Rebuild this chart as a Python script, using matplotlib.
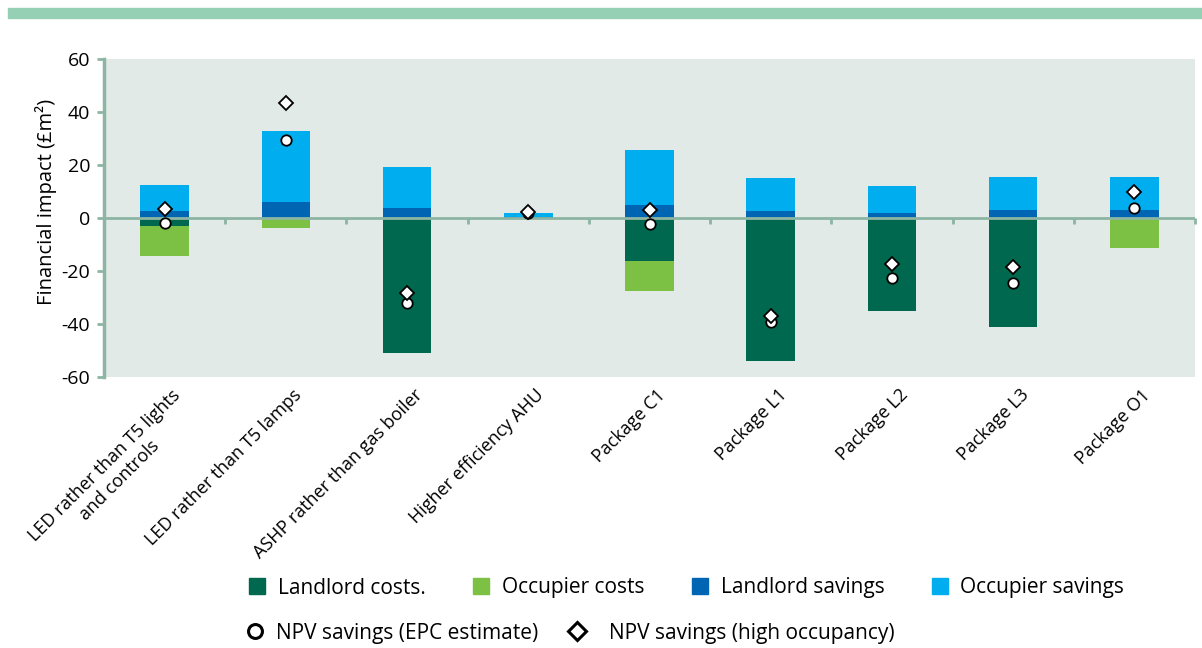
import matplotlib
matplotlib.use("Agg")
import matplotlib.pyplot as plt
import matplotlib.transforms as mtransforms
from matplotlib.patches import Rectangle
from matplotlib.lines import Line2D
import numpy as np

plt.rcParams['font.family'] = ['Open Sans', 'DejaVu Sans']

categories = [
    "LED rather than T5 lights\nand controls",
    "LED rather than T5 lamps",
    "ASHP rather than gas boiler",
    "Higher efficiency AHU",
    "Package C1",
    "Package L1",
    "Package L2",
    "Package L3",
    "Package O1",
]
landlord_costs = [-3.1, 0.0, -51.1, 0.0, -16.2, -54.0, -35.1, -41.2, 0.0]
occupier_costs = [-11.4, -3.9, 0.0, 0.0, -11.3, 0.0, 0.0, 0.0, -11.5]
landlord_savings = [2.6, 6.0, 3.7, 0.3, 4.8, 2.6, 1.7, 2.9, 2.9]
occupier_savings = [10.0, 26.8, 15.4, 1.7, 20.9, 12.4, 10.3, 12.6, 12.6]
npv_epc = [-1.8, 29.4, -32.1, 2.0, -2.2, -39.3, -22.7, -24.4, 3.6]
npv_high = [3.5, 43.5, -28.3, 2.3, 3.1, -37.1, -17.2, -18.5, 9.8]
y_ticks = [-60, -40, -20, 0, 20, 40, 60]

c_land_cost = "#00684e"
c_occ_cost = "#7cc144"
c_land_sav = "#0066b3"
c_occ_sav = "#00aeef"
c_axis = "#8db5a3"
c_bg = "#e1eae7"

fig = plt.figure(figsize=(12.02, 6.48), dpi=100)
fig.patches.append(Rectangle((8 / 1202, 1 - 18 / 648), 1 - 8 / 1202, 10 / 648,
                             transform=fig.transFigure, color="#96d0b4", zorder=0))

ax = fig.add_axes([104 / 1202, 1 - 377 / 648, (1195 - 104) / 1202, (377 - 59) / 648])
ax.set_facecolor(c_bg)

x = np.arange(len(categories))
w = 0.4
lc = np.array(landlord_costs)
oc = np.array(occupier_costs)
ls = np.array(landlord_savings)
os_ = np.array(occupier_savings)

ax.bar(x, lc, w, color=c_land_cost, zorder=2)
ax.bar(x, oc, w, bottom=lc, color=c_occ_cost, zorder=2)
ax.bar(x, ls, w, color=c_land_sav, zorder=2)
ax.bar(x, os_, w, bottom=ls, color=c_occ_sav, zorder=2)

# zero line with small ticks between categories
ax.axhline(0, color=c_axis, lw=2, zorder=3)
bounds = np.arange(len(categories) + 1) - 0.5
ax.plot(bounds, np.zeros_like(bounds), linestyle="none", marker=3, markersize=4,
        markeredgewidth=2, color=c_axis, zorder=3, clip_on=False)

ax.plot(x, npv_epc, linestyle="none", marker="o", markersize=7.5, markerfacecolor="white",
        markeredgecolor="black", markeredgewidth=1.3, zorder=5)
ax.plot(x, npv_high, linestyle="none", marker="D", markersize=7.5, markerfacecolor="white",
        markeredgecolor="black", markeredgewidth=1.3, zorder=5)

ax.set_xlim(-0.5, len(categories) - 0.5)
ax.set_ylim(-60, 60)
ax.set_yticks(y_ticks)
ax.set_yticklabels([str(v) for v in y_ticks], fontsize=14)
ax.tick_params(axis="y", direction="out", length=5, width=2, color=c_axis, pad=5)
ax.set_ylabel("Financial impact (£m²)", fontsize=14.5)
ax.yaxis.set_label_coords(-47 / 1091, 0.55)

ax.set_xticks(x)
ax.set_xticklabels(categories, rotation=45, ha="right", va="top",
                   rotation_mode="anchor", fontsize=13, multialignment="center")
ax.tick_params(axis="x", length=0, pad=0)
shift = mtransforms.ScaledTranslation(0.07, -0.09, fig.dpi_scale_trans)
for lab in ax.get_xticklabels():
    lab.set_transform(lab.get_transform() + shift)

for s in ["top", "right", "bottom"]:
    ax.spines[s].set_visible(False)
ax.spines["left"].set_color(c_axis)
ax.spines["left"].set_linewidth(2.5)

# legend: bar components
sq = dict(marker="s", linestyle="none", markersize=11.5)
h1 = [Line2D([], [], color=c_land_cost, **sq),
      Line2D([], [], color=c_occ_cost, **sq),
      Line2D([], [], color=c_land_sav, **sq),
      Line2D([], [], color=c_occ_sav, **sq)]
l1 = ["Landlord costs.", "Occupier costs", "Landlord savings", "Occupier savings"]
fig.legend(h1, l1, ncol=4, loc="center left", bbox_to_anchor=(248 / 1202, 1 - 588 / 648),
           frameon=False, fontsize=15, handletextpad=0.55, columnspacing=2.2,
           handlelength=0.9, borderaxespad=0, borderpad=0)

# legend: NPV markers
h_epc = Line2D([], [], marker="o", linestyle="none", markersize=10, markerfacecolor="white",
               markeredgecolor="black", markeredgewidth=2.2)
h_high = Line2D([], [], marker="D", linestyle="none", markersize=9, markerfacecolor="white",
                markeredgecolor="black", markeredgewidth=2.2)
fig.legend([h_epc], ["NPV savings (EPC estimate)"], loc="center left",
           bbox_to_anchor=(246 / 1202, 1 - 633 / 648), frameon=False, fontsize=15,
           handletextpad=0.55, handlelength=0.9, borderaxespad=0, borderpad=0)
fig.legend([h_high], ["NPV savings (high occupancy)"], loc="center left",
           bbox_to_anchor=(568 / 1202, 1 - 633 / 648), frameon=False, fontsize=15,
           handletextpad=1.05, handlelength=0.9, borderaxespad=0, borderpad=0)

fig.savefig("out.png", dpi=100)
